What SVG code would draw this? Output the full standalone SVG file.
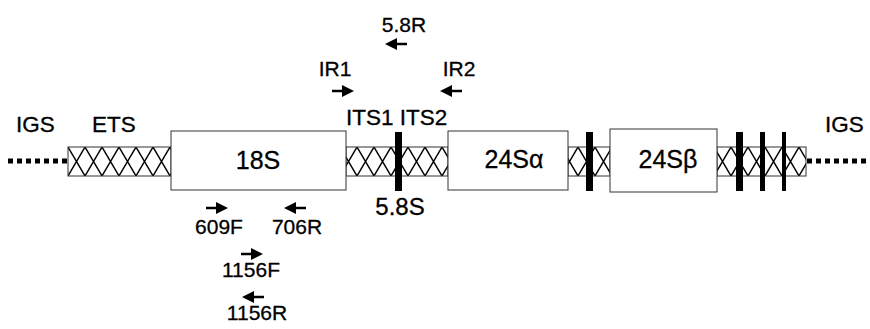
<svg xmlns="http://www.w3.org/2000/svg" width="870" height="329" viewBox="0 0 870 329">
<defs>
  <pattern id="hatch" patternUnits="userSpaceOnUse" x="0" y="147" width="17" height="29">
    <path d="M0,0 L17,29 M17,0 L0,29" stroke="#000" stroke-width="1.4" fill="none"/>
  </pattern>
  <path id="arR" d="M-22,-1.2 L-10,-1.2 L-10,1.2 L-22,1.2 z M-12,-6 L0,0 L-12,6 z"/>
  <path id="arL" d="M22,-1.2 L10,-1.2 L10,1.2 L22,1.2 z M12,-6 L0,0 L12,6 z"/>
  <style>
    text { font-family: "Liberation Sans", Arial, sans-serif; fill: #000; stroke: #000; stroke-width: 0.3px; }
    .lbl { font-size: 22.5px; }
    .box { font-size: 25px; }
    .big { font-size: 24px; }
    .pr { font-size: 21px; }
    .seg { fill: #fff; stroke: #333; stroke-width: 1; }
    .band { fill: url(#hatch); stroke: #333; stroke-width: 1; }
    .bar { fill: #000; }
    .dots { stroke: #000; stroke-width: 5; stroke-dasharray: 5 4; fill: none; }
    .arrow { fill: #000; }
  </style>
</defs>
<rect width="870" height="329" fill="#fff"/>

<g id="connectors">
  <line class="dots" x1="8" y1="161" x2="68" y2="161"/>
  <line class="dots" x1="807" y1="161" x2="867" y2="161"/>
</g>

<g id="ETS">
  <rect class="band" x="68" y="147" width="103" height="29"/>
  <text class="lbl" x="92" y="132">ETS</text>
</g>
<g id="ITS">
  <rect class="band" x="346" y="147" width="102" height="29"/>
  <text class="lbl" x="346" y="125">ITS1 ITS2</text>
</g>
<g id="spacer1">
  <rect class="band" x="568" y="147" width="42" height="29"/>
</g>
<g id="spacer2">
  <rect class="band" x="717" y="147" width="89" height="29"/>
</g>

<g id="n18S">
  <rect class="seg" x="171" y="131" width="175" height="59"/>
  <text class="box" x="258" y="169" text-anchor="middle">18S</text>
</g>
<g id="n24Sa">
  <rect class="seg" x="448" y="131" width="120" height="59"/>
  <text class="box" x="514" y="168" text-anchor="middle">24Sα</text>
</g>
<g id="n24Sb">
  <rect class="seg" x="610" y="129" width="107" height="63"/>
  <text class="box" x="668" y="168" text-anchor="middle">24Sβ</text>
</g>

<g id="n58S">
  <rect class="bar" x="395" y="132" width="7" height="59"/>
  <text class="big" x="400" y="215" text-anchor="middle">5.8S</text>
</g>
<g id="bars">
  <rect class="bar" x="586" y="132" width="7" height="59"/>
  <rect class="bar" x="736" y="132" width="7" height="59"/>
  <rect class="bar" x="760" y="132" width="5" height="59"/>
  <rect class="bar" x="782" y="132" width="4" height="59"/>
</g>

<g id="IGS">
  <text class="lbl" x="16" y="132">IGS</text>
  <text class="lbl" x="825" y="132">IGS</text>
</g>

<g id="primers">
  <use class="arrow" href="#arL" x="385" y="44"/>
  <text class="pr" x="404" y="32" text-anchor="middle">5.8R</text>
  <use class="arrow" href="#arR" x="354" y="91"/>
  <text class="pr" x="335" y="76" text-anchor="middle">IR1</text>
  <use class="arrow" href="#arL" x="440" y="91"/>
  <text class="pr" x="459" y="76" text-anchor="middle">IR2</text>
  <use class="arrow" href="#arR" x="228" y="208"/>
  <text class="pr" x="219" y="234" text-anchor="middle">609F</text>
  <use class="arrow" href="#arL" x="284" y="208"/>
  <text class="pr" x="297" y="234" text-anchor="middle">706R</text>
  <use class="arrow" href="#arR" x="263" y="254"/>
  <text class="pr" x="251" y="277" text-anchor="middle">1156F</text>
  <use class="arrow" href="#arL" x="242" y="297"/>
  <text class="pr" x="257" y="320" text-anchor="middle">1156R</text>
</g>
</svg>
